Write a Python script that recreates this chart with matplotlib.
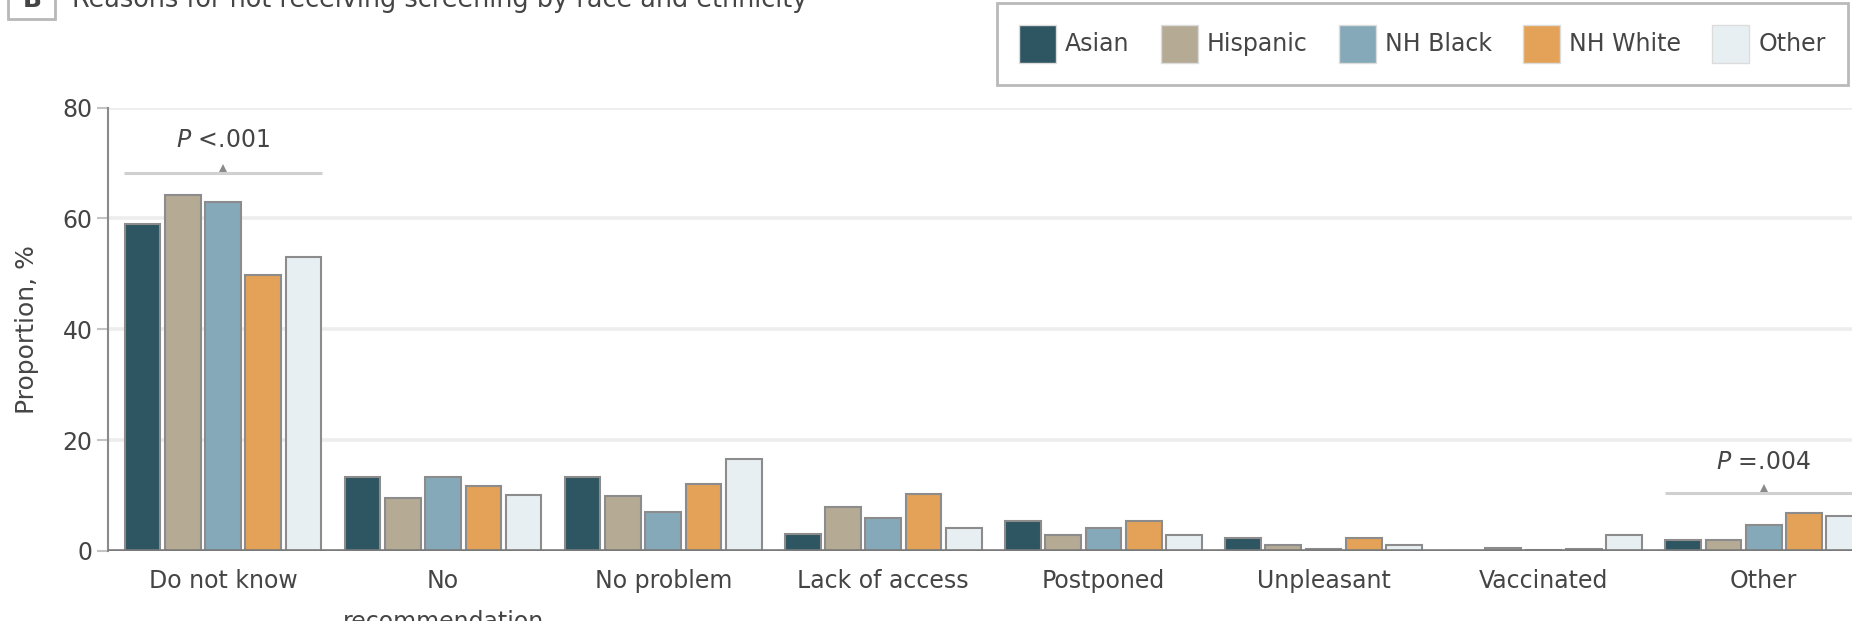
import matplotlib
matplotlib.use("Agg")
import matplotlib.pyplot as plt
import numpy as np
from matplotlib.patches import Rectangle, Patch

# ---------------- data ----------------
categories = ["Do not know", "No\nrecommendation", "No problem", "Lack of access",
              "Postponed", "Unpleasant", "Vaccinated", "Other"]
groups = ["Asian", "Hispanic", "NH Black", "NH White", "Other"]
asian    = [59.0, 13.3, 13.3, 3.0, 5.4, 2.3, 0.0, 1.9]
hispanic = [64.2, 9.5, 10.0, 8.0, 2.9, 1.1, 0.5, 1.9]
nh_black = [63.0, 13.3, 7.0, 6.0, 4.2, 0.4, 0.1, 4.6]
nh_white = [49.7, 11.8, 12.1, 10.2, 5.4, 2.3, 0.3, 6.8]
other    = [53.0, 10.1, 16.6, 4.1, 2.9, 1.1, 2.9, 6.3]
series = [asian, hispanic, nh_black, nh_white, other]
yticks = [0, 20, 40, 60, 80]
p_categories = [0, 7]
p_labels = ["<.001", "=.004"]

title = "Reasons for not receiving screening by race and ethnicity"
panel = "B"
ylabel = "Proportion, %"

# ---------------- style ----------------
colors = ["#2e5562", "#b5aa94", "#86a9b9", "#e3a257", "#e8eff3"]
text_color = "#454545"
FS = 17
W, H = 1852, 621
fig = plt.figure(figsize=(W / 100, H / 100), dpi=100)
plt.rcParams["font.family"] = ["DejaVu Sans"]

y0_px, y80_px = 551, 107.5
x_left_px = 108
spacing_px = 220.1
center0_px = 223
xlim_left = -(center0_px - x_left_px) / spacing_px
xlim_right = 7.55
ax_w_px = (xlim_right - xlim_left) * spacing_px
ax = fig.add_axes([x_left_px / W, 1 - y0_px / H, ax_w_px / W, (y0_px - y80_px) / H])
ax.set_xlim(xlim_left, xlim_right)
ax.set_ylim(0, 80)

x = np.arange(len(categories))
offset = 0.183
bw = 0.162
for i, (vals, c, g) in enumerate(zip(series, colors, groups)):
    ax.bar(x + (i - 2) * offset, vals, width=bw, color=c, edgecolor="#8c8c8c",
           linewidth=1.5, zorder=3, label=g)

# gridlines
for yt in yticks[1:]:
    ax.axhline(yt, color="#ededed", lw=2.6, zorder=1)
ax.axhline(0, color="#7a7a7a", lw=2.6, zorder=5)

for s in ["top", "right", "bottom"]:
    ax.spines[s].set_visible(False)
ax.spines["left"].set_color("#8a8a8a")
ax.spines["left"].set_linewidth(1.5)
ax.spines["left"].set_bounds(0, 80)

ax.set_yticks(yticks)
ax.tick_params(axis="y", length=8, width=1.5, color="#c4c4c4", pad=3,
               labelsize=FS, labelcolor=text_color)
ax.set_xticks(x)
ax.set_xticklabels(categories, linespacing=1.9)
ax.tick_params(axis="x", length=0, pad=13, labelsize=FS, labelcolor=text_color)

# P-value annotations
p_line_y = [68.2, 10.5]
p_text_y = [74.1, 16.1]
for ci, lab, ly, ty in zip(p_categories, p_labels, p_line_y, p_text_y):
    ax.plot([ci - 0.45, ci + 0.45], [ly, ly], color="#d0d0d0", lw=2.2, zorder=4,
            solid_capstyle="butt", clip_on=False)
    ax.plot([ci], [ly + 0.8], marker="^", markersize=6, color="#8a8a8a",
            markeredgewidth=0, zorder=5)
    ax.text(ci, ty, r"$\it{P}$ " + lab, ha="center", va="center", fontsize=FS,
            color=text_color, zorder=6)

# y label
fig.text(27 / W, 1 - 330 / H, ylabel, rotation=90, ha="center", va="center",
         fontsize=18, color=text_color)

# legend
handles = [Patch(facecolor=c, edgecolor="#dcdcdc", linewidth=1.0) for c in colors]
leg = fig.legend(handles, groups, loc="upper left",
                 bbox_to_anchor=(997 / W, 1 - 3 / H), bbox_transform=fig.transFigure,
                 ncol=5, fontsize=FS, frameon=True, fancybox=False,
                 handlelength=1.57, handleheight=2.1, handletextpad=0.38,
                 columnspacing=1.32, borderpad=0.93, borderaxespad=0)
leg.get_frame().set_edgecolor("#a8a8a8")
leg.get_frame().set_linewidth(2.0)
for t in leg.get_texts():
    t.set_color(text_color)

# title (cut off at the top in the original)
fig.patches.append(Rectangle((8 / W, 1 - 19 / H), 47 / W, 47 / H,
                             transform=fig.transFigure, facecolor="white",
                             edgecolor="#b8b8b8", linewidth=2.0))
fig.text(32 / W, 1 - 7 / H, panel, ha="center", va="baseline", fontsize=18,
         fontweight="bold", color=text_color)
fig.text(72 / W, 1 - 7 / H, title, ha="left", va="baseline", fontsize=18.4,
         color=text_color)

fig.savefig("out.png", dpi=100)
